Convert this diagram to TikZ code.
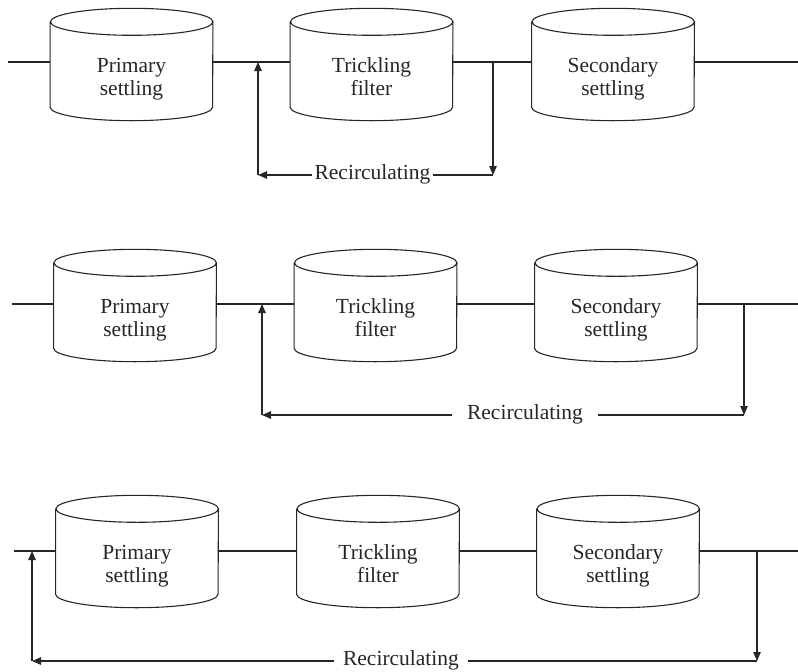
\documentclass[tikz,border=0pt]{standalone}
\usepackage{fontspec}
\setmainfont{Liberation Serif}
\usetikzlibrary{arrows.meta}
\newcommand\tankoutline[1]{%
  \draw[ln] ([yshift=13.5pt]#1.north west) -- ([yshift=13.5pt]#1.south west)
    arc[start angle=180,end angle=360,x radius=81.25pt,y radius=13.5pt]
    -- ([yshift=13.5pt]#1.north east)
    arc[start angle=0,end angle=360,x radius=81.25pt,y radius=13.5pt];}
\newcommand\tkstrut{\rule[-5pt]{0pt}{22pt}}
\newcommand\twolines[2]{\tkstrut#1\\\tkstrut#2}
\begin{document}
\begin{tikzpicture}[x=1pt,y=-1pt,
  ln/.style={line width=1.1pt,black!85},
  tank/.style={minimum width=162.5pt,minimum height=85pt,inner sep=0pt,align=center,
    font=\fontsize{21.5}{23}\selectfont,text=black!85},
  rlabel/.style={inner ysep=0pt,font=\fontsize{21.5}{23}\selectfont,text=black!85},
  tip/.style={ln,-{Triangle[length=9pt,width=7.5pt]}}]
\useasboundingbox (0,0) rectangle (798,672);
% ---------- row 1 ----------
\coordinate (a1) at (8,62);
\coordinate (z1) at (798,62);
\node[tank] (P1) at (131.5,78) {\twolines{Primary}{settling}};
\node[tank] (T1) at (371.5,78) {\twolines{Trickling}{filter}};
\node[tank] (S1) at (613,78) {\twolines{Secondary}{settling}};
\tankoutline{P1}\tankoutline{T1}\tankoutline{S1}
\draw[ln] (a1) -- (a1 -| P1.west);
\draw[ln] (P1.east |- a1) -- (T1.west |- a1);
\draw[ln] (T1.east |- a1) -- (S1.west |- a1);
\draw[ln] (S1.east |- a1) -- (z1);
\node[rlabel,inner xsep=2.5pt] (R1) at (372.5,174.5) {Recirculating};
\coordinate (u1) at (258,175);
\coordinate (d1) at (493,175);
\draw[tip] (R1.west |- u1) -- (u1);
\draw[tip] (u1) -- (u1 |- a1);
\draw[tip] (d1 |- a1) -- (d1);
\draw[ln] (d1) -- (R1.east |- d1);
% ---------- row 2 ----------
\coordinate (a2) at (12,304);
\coordinate (z2) at (798,304);
\node[tank] (P2) at (135,319) {\twolines{Primary}{settling}};
\node[tank] (T2) at (375.5,319) {\twolines{Trickling}{filter}};
\node[tank] (S2) at (616,319) {\twolines{Secondary}{settling}};
\tankoutline{P2}\tankoutline{T2}\tankoutline{S2}
\draw[ln] (a2) -- (a2 -| P2.west);
\draw[ln] (P2.east |- a2) -- (T2.west |- a2);
\draw[ln] (T2.east |- a2) -- (S2.west |- a2);
\draw[ln] (S2.east |- a2) -- (z2);
\node[rlabel,inner xsep=15pt] (R2) at (525,414.5) {Recirculating};
\coordinate (u2) at (262,415);
\coordinate (d2) at (744,415);
\draw[tip] (R2.west |- u2) -- (u2);
\draw[tip] (u2) -- (u2 |- a2);
\draw[tip] (d2 |- a2) -- (d2);
\draw[ln] (d2) -- (R2.east |- d2);
% ---------- row 3 ----------
\coordinate (a3) at (14,551);
\coordinate (z3) at (798,551);
\node[tank] (P3) at (137,565) {\twolines{Primary}{settling}};
\node[tank] (T3) at (378,565) {\twolines{Trickling}{filter}};
\node[tank] (S3) at (618,565) {\twolines{Secondary}{settling}};
\tankoutline{P3}\tankoutline{T3}\tankoutline{S3}
\draw[ln] (a3) -- (a3 -| P3.west);
\draw[ln] (P3.east |- a3) -- (T3.west |- a3);
\draw[ln] (T3.east |- a3) -- (S3.west |- a3);
\draw[ln] (S3.east |- a3) -- (z3);
\node[rlabel,inner xsep=9pt] (R3) at (401,660.5) {Recirculating};
\coordinate (u3) at (32,661);
\coordinate (d3) at (757,661);
\draw[tip] (R3.west |- u3) -- (u3);
\draw[tip] (u3) -- (u3 |- a3);
\draw[tip] (d3 |- a3) -- (d3);
\draw[ln] (d3) -- (R3.east |- d3);
\end{tikzpicture}
\end{document}
